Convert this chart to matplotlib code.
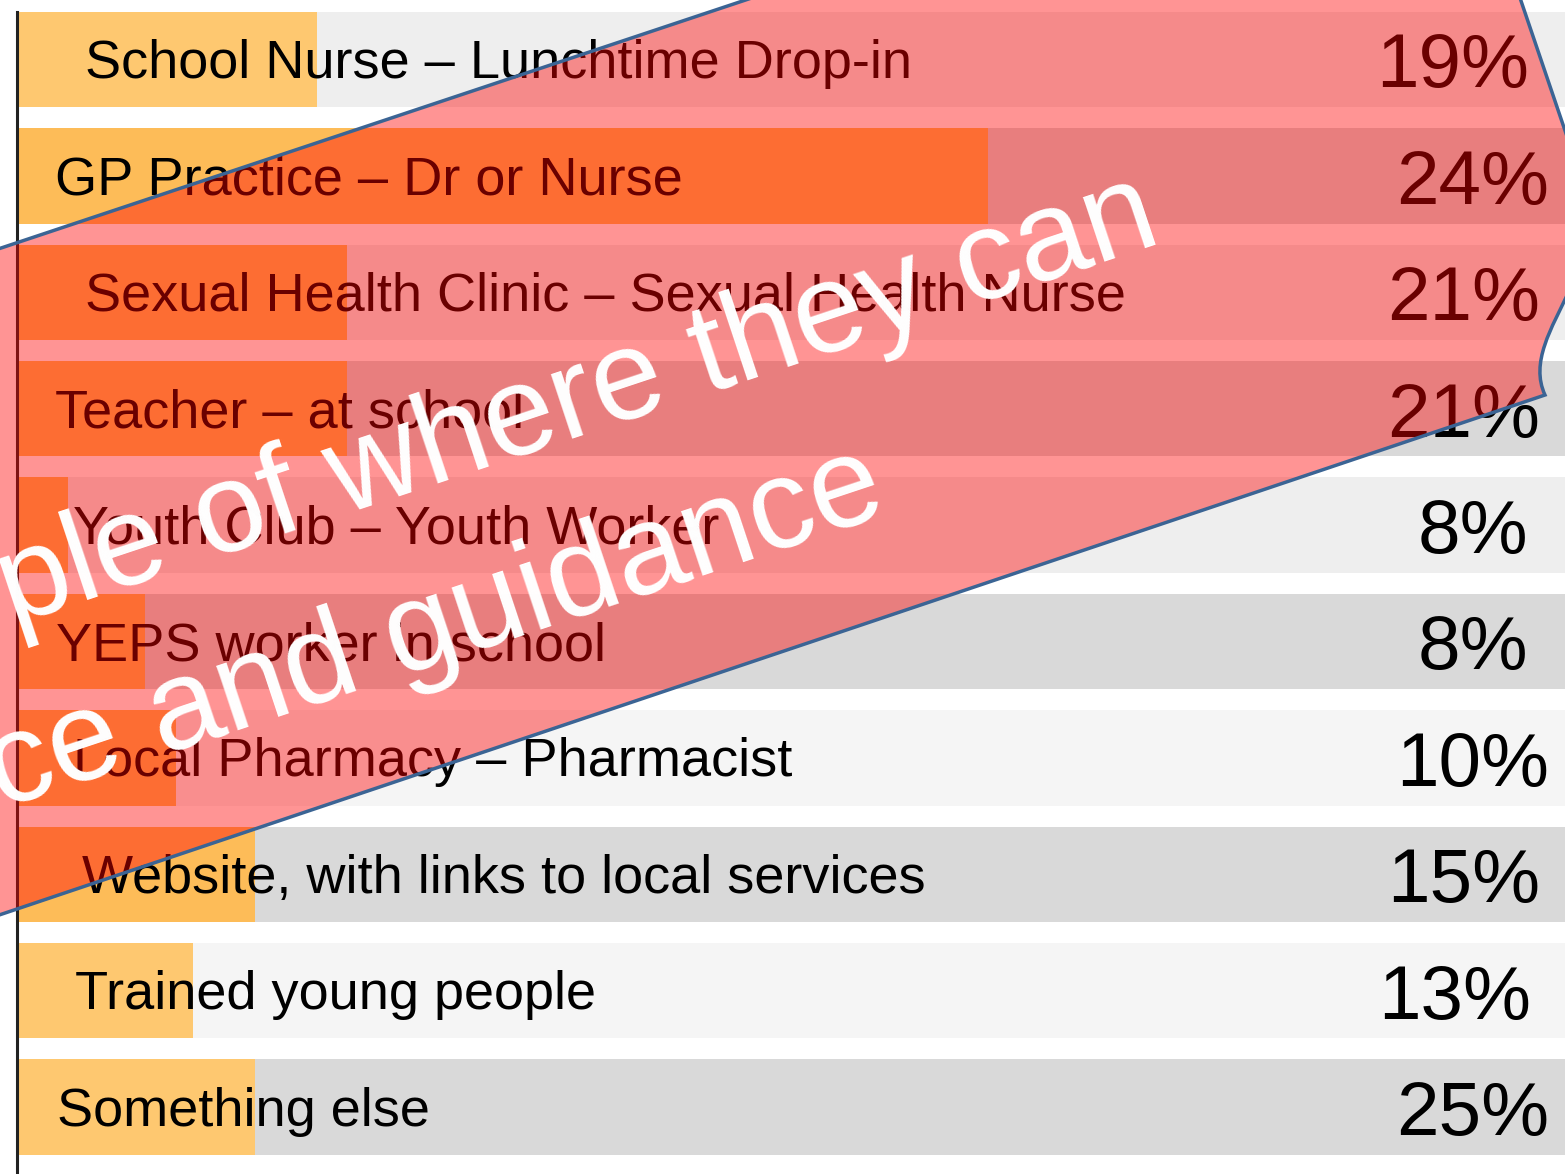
import matplotlib.pyplot as plt
from matplotlib.path import Path
from matplotlib.patches import PathPatch

plt.rcParams['font.family'] = ['Liberation Sans', 'DejaVu Sans']

# survey answers, top row first
services = [
    "School Nurse \u2013 Lunchtime Drop-in",
    "GP Practice \u2013 Dr or Nurse",
    "Sexual Health Clinic \u2013 Sexual Health Nurse",
    "Teacher \u2013 at school",
    "Youth Club \u2013 Youth Worker",
    "YEPS worker in school",
    "Local Pharmacy \u2013 Pharmacist",
    "Website, with links to local services",
    "Trained young people",
    "Something else",
]
values = [19, 24, 21, 21, 8, 8, 10, 15, 13, 25]
# filled part of each row as drawn in the picture (share of the row width)
bar_fill = [19.4, 62.7, 21.3, 21.3, 3.3, 8.3, 10.3, 15.4, 11.4, 15.4]

banner_lines = ["Examples from young people of where they can",
                "get advice and guidance"]

# styling
band_colors = ['#eeeeee', '#d9d9d9', '#eeeeee', '#d9d9d9', '#eeeeee',
               '#d9d9d9', '#f5f5f5', '#d9d9d9', '#f5f5f5', '#d9d9d9']
bar_colors = ['#fec870', '#fdbc58', '#fdbc58', '#fdbc58', '#fdbc58',
              '#fdbc58', '#fdbc58', '#fdbc58', '#fec870', '#fec870']
label_x = [4.4, 2.45, 4.4, 2.45, 3.6, 2.5, 3.6, 4.2, 3.75, 2.6]
value_x = [97.7, 99.0, 98.4, 98.4, 97.6, 97.6, 99.0, 98.4, 97.8, 99.0]

W, H = 1565, 1174
fig = plt.figure(figsize=(W / 100, H / 100), dpi=100)

ax = fig.add_axes([17 / W, 0, 1 - 17 / W, 1])
rows = list(range(len(services)))
ax.barh(rows, [100] * len(rows), height=0.82, color=band_colors, zorder=1)
ax.barh(rows, bar_fill, height=0.82, color=bar_colors, zorder=2)
ax.plot([0, 0], [-0.41, 9.6], color='#222222', lw=2.2, zorder=3, clip_on=False)

for i, (name, v) in enumerate(zip(services, values)):
    ax.text(label_x[i], i + 0.16, name, fontsize=39, va='baseline', ha='left',
            color='black', zorder=4)
    ax.text(value_x[i], i + 0.24, f"{v}%", fontsize=55, va='baseline',
            ha='right', color='black', zorder=4)

ax.set_xlim(0, 100)
ax.set_ylim(9.575, -0.511)
ax.axis('off')

# rotated banner laid over the chart
ov = fig.add_axes([0, 0, 1, 1])
ov.set_xlim(0, W)
ov.set_ylim(H, 0)
ov.axis('off')
ov.patch.set_alpha(0)

verts = [(-200, 315), (1442, -232), (1575, 160),
         (1630, 260), (1515, 330), (1545, 395),
         (-200, 982), (-200, 315)]
codes = [Path.MOVETO, Path.LINETO, Path.LINETO,
         Path.CURVE4, Path.CURVE4, Path.CURVE4,
         Path.LINETO, Path.CLOSEPOLY]
ov.add_patch(PathPatch(Path(verts, codes), facecolor=(1, 0, 0, 0.42),
                       edgecolor='#3b6494', lw=2.5))

ov.text(1164, 242, banner_lines[0], rotation=18.4, rotation_mode='anchor',
        ha='right', va='baseline', color='white', fontsize=92)
ov.text(890, 513, banner_lines[1], rotation=18.4, rotation_mode='anchor',
        ha='right', va='baseline', color='white', fontsize=92)

fig.savefig('out.png', dpi=100)
